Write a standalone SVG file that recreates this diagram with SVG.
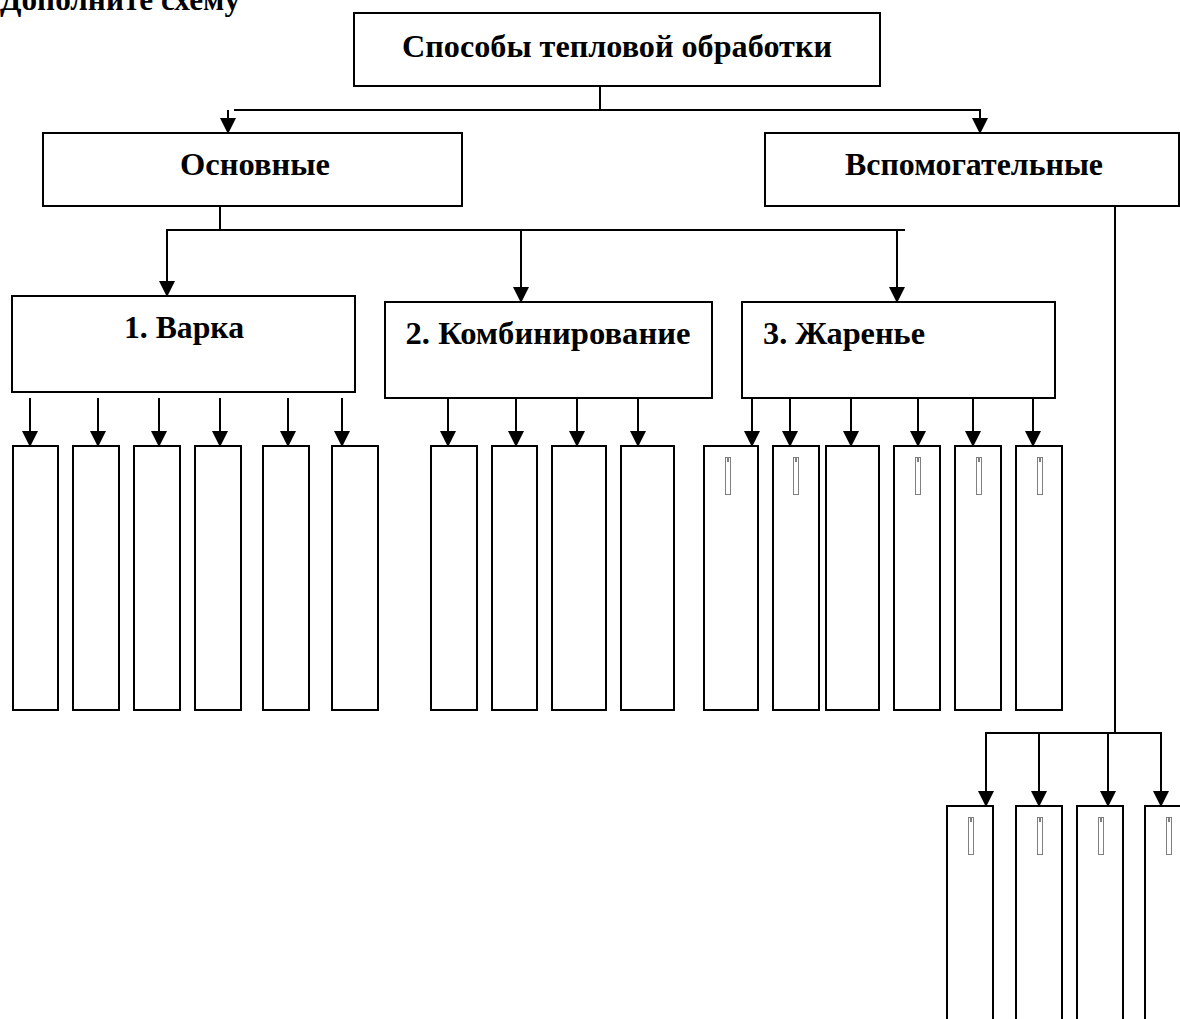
<svg xmlns="http://www.w3.org/2000/svg" width="1180" height="1019" viewBox="0 0 1180 1019">
<defs>
<marker id="ah" markerUnits="userSpaceOnUse" markerWidth="16" markerHeight="16" refX="15" refY="8" orient="auto" viewBox="0 0 16 16">
<path d="M0,0 L16,8 L0,16 z" fill="#000"/>
</marker>
<style>
.box{fill:#fff;stroke:#000;stroke-width:2}
.ln{fill:none;stroke:#000;stroke-width:2}
.ar{fill:none;stroke:#000;stroke-width:2;marker-end:url(#ah)}
.t{font-family:"Liberation Serif","Times New Roman",serif;font-weight:bold;font-size:32px;fill:#000}
.cur{fill:#fff;stroke:#808080;stroke-width:1}
.tick{stroke:#000;stroke-width:1}
</style>
</defs>
<rect width="1180" height="1019" fill="#fff"/>
<text class="t" x="0" y="10" textLength="240" lengthAdjust="spacingAndGlyphs">Дополните схему</text>

<g id="connectors">
<line class="ln" x1="600" y1="86" x2="600" y2="110"/>
<line class="ln" x1="234" y1="110" x2="981" y2="110"/>
<line class="ar" x1="228" y1="110" x2="228" y2="133"/>
<line class="ar" x1="980" y1="110" x2="980" y2="133"/>
<line class="ln" x1="220" y1="206" x2="220" y2="230"/>
<line class="ln" x1="166" y1="230" x2="905" y2="230"/>
<line class="ar" x1="167" y1="230" x2="167" y2="296"/>
<line class="ar" x1="521" y1="230" x2="521" y2="302"/>
<line class="ar" x1="897" y1="230" x2="897" y2="302"/>
<line class="ar" x1="30" y1="398" x2="30" y2="446"/>
<line class="ar" x1="98" y1="398" x2="98" y2="446"/>
<line class="ar" x1="159" y1="398" x2="159" y2="446"/>
<line class="ar" x1="220" y1="398" x2="220" y2="446"/>
<line class="ar" x1="288" y1="398" x2="288" y2="446"/>
<line class="ar" x1="342" y1="398" x2="342" y2="446"/>
<line class="ar" x1="448" y1="398" x2="448" y2="446"/>
<line class="ar" x1="516" y1="398" x2="516" y2="446"/>
<line class="ar" x1="577" y1="398" x2="577" y2="446"/>
<line class="ar" x1="638" y1="398" x2="638" y2="446"/>
<line class="ar" x1="752" y1="398" x2="752" y2="446"/>
<line class="ar" x1="790" y1="398" x2="790" y2="446"/>
<line class="ar" x1="851" y1="398" x2="851" y2="446"/>
<line class="ar" x1="918" y1="398" x2="918" y2="446"/>
<line class="ar" x1="973" y1="398" x2="973" y2="446"/>
<line class="ar" x1="1033" y1="398" x2="1033" y2="446"/>
<line class="ln" x1="1115" y1="206" x2="1115" y2="733"/>
<line class="ln" x1="985" y1="733" x2="1162" y2="733"/>
<line class="ar" x1="986" y1="733" x2="986" y2="806"/>
<line class="ar" x1="1039" y1="733" x2="1039" y2="806"/>
<line class="ar" x1="1108" y1="733" x2="1108" y2="806"/>
<line class="ar" x1="1161" y1="733" x2="1161" y2="806"/>
</g>

<g id="n-root"><rect class="box" x="354" y="13" width="526" height="73"/>
<text class="t" x="617" y="57" text-anchor="middle" textLength="430" lengthAdjust="spacingAndGlyphs">Способы тепловой обработки</text></g>
<g id="n-main"><rect class="box" x="43" y="133" width="419" height="73"/>
<text class="t" x="255" y="175" text-anchor="middle" textLength="150" lengthAdjust="spacingAndGlyphs">Основные</text></g>
<g id="n-aux"><rect class="box" x="765" y="133" width="414" height="73"/>
<text class="t" x="974" y="175" text-anchor="middle" textLength="258" lengthAdjust="spacingAndGlyphs">Вспомогательные</text></g>
<g id="n-boil"><rect class="box" x="12" y="296" width="343" height="96"/>
<text class="t" x="184" y="338" text-anchor="middle" textLength="120" lengthAdjust="spacingAndGlyphs">1. Варка</text></g>
<g id="n-comb"><rect class="box" x="385" y="302" width="327" height="96"/>
<text class="t" x="548" y="344" text-anchor="middle" textLength="285" lengthAdjust="spacingAndGlyphs">2. Комбинирование</text></g>
<g id="n-fry"><rect class="box" x="742" y="302" width="313" height="96"/>
<text class="t" x="763" y="344" textLength="162" lengthAdjust="spacingAndGlyphs">3. Жаренье</text></g>

<g id="n-boil-leaves">
<rect class="box" x="13" y="446" width="45" height="264"/>
<rect class="box" x="73" y="446" width="46" height="264"/>
<rect class="box" x="134" y="446" width="46" height="264"/>
<rect class="box" x="195" y="446" width="46" height="264"/>
<rect class="box" x="263" y="446" width="46" height="264"/>
<rect class="box" x="332" y="446" width="46" height="264"/>
</g>
<g id="n-comb-leaves">
<rect class="box" x="431" y="446" width="46" height="264"/>
<rect class="box" x="492" y="446" width="45" height="264"/>
<rect class="box" x="552" y="446" width="54" height="264"/>
<rect class="box" x="621" y="446" width="53" height="264"/>
</g>
<g id="n-fry-leaves">
<rect class="box" x="704" y="446" width="54" height="264"/>
<rect class="box" x="773" y="446" width="46" height="264"/>
<rect class="box" x="826" y="446" width="53" height="264"/>
<rect class="box" x="894" y="446" width="46" height="264"/>
<rect class="box" x="955" y="446" width="46" height="264"/>
<rect class="box" x="1016" y="446" width="46" height="264"/>
<rect class="cur" x="725.5" y="457.5" width="5" height="37"/><line class="tick" x1="728" y1="458" x2="728" y2="462"/>
<rect class="cur" x="793.5" y="457.5" width="5" height="37"/><line class="tick" x1="796" y1="458" x2="796" y2="462"/>
<rect class="cur" x="915.5" y="457.5" width="5" height="37"/><line class="tick" x1="918" y1="458" x2="918" y2="462"/>
<rect class="cur" x="976.5" y="457.5" width="5" height="37"/><line class="tick" x1="979" y1="458" x2="979" y2="462"/>
<rect class="cur" x="1037.5" y="457.5" width="5" height="37"/><line class="tick" x1="1040" y1="458" x2="1040" y2="462"/>
</g>
<g id="n-aux-leaves">
<rect class="box" x="947" y="806" width="46" height="220"/>
<rect class="box" x="1016" y="806" width="46" height="220"/>
<rect class="box" x="1077" y="806" width="46" height="220"/>
<rect class="box" x="1145" y="806" width="46" height="220"/>
<rect class="cur" x="968.5" y="817.5" width="5" height="37"/><line class="tick" x1="971" y1="818" x2="971" y2="822"/>
<rect class="cur" x="1037.5" y="817.5" width="5" height="37"/><line class="tick" x1="1040" y1="818" x2="1040" y2="822"/>
<rect class="cur" x="1098.5" y="817.5" width="5" height="37"/><line class="tick" x1="1101" y1="818" x2="1101" y2="822"/>
<rect class="cur" x="1166.5" y="817.5" width="5" height="37"/><line class="tick" x1="1169" y1="818" x2="1169" y2="822"/>
</g>
</svg>
